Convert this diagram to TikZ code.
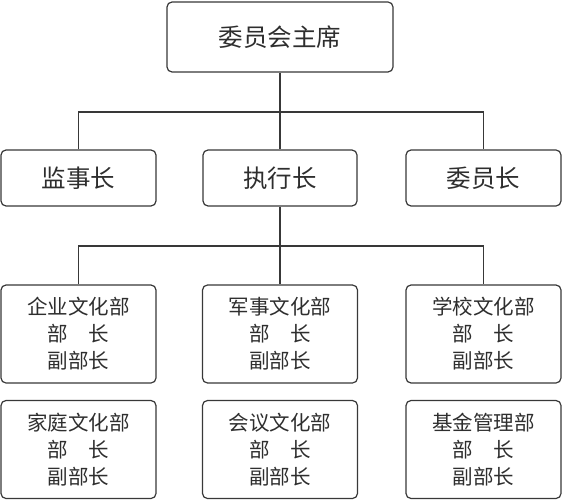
\documentclass[tikz,border=0pt]{standalone}
\usepackage{fontspec}
\newfontfamily\cjk{Noto Sans CJK SC}
\tikzset{
  box/.style={draw=black!78,line width=1.2pt,rounded corners=5pt,align=center,text=black!82,inner sep=0pt},
  big/.style={box,font=\cjk\fontsize{24.5}{30}\selectfont},
  dept/.style={box,minimum width=155pt,minimum height=98pt,font=\cjk\fontsize{20.5}{27}\selectfont},
  link/.style={draw=black!78,line width=1.1pt}
}
\begin{document}
\begin{tikzpicture}[x=1pt,y=-1pt]
	\useasboundingbox (0,0) rectangle (562,500);
	\def\xl{78.5};\def\xm{280};\def\xr{483.5};
	\node[big,minimum width=226pt,minimum height=70pt] (chair) at (\xm,37) {委员会主席};
	\node[big,minimum width=155pt,minimum height=56pt] (jian) at (\xl,178) {监事长};
	\node[big,minimum width=154pt,minimum height=56pt] (zhi) at (\xm,178) {执行长};
	\node[big,minimum width=155pt,minimum height=56pt] (wei) at (\xr,178) {委员长};
	\foreach \n/\x/\y/\t in {qiye/\xl/334/企业文化部, junshi/\xm/334/军事文化部, xuexiao/\xr/334/学校文化部,
	                        jiating/\xl/449.5/家庭文化部, huiyi/\xm/449.5/会议文化部, jijin/\xr/449.5/基金管理部}
		{\node[dept] (\n) at (\x,\y) {\t\\部　长\\副部长};}
	\coordinate (bus1) at (\xm,112);
	\coordinate (bus2) at (\xm,246);
	\draw[link] (chair.south)--(bus1) (bus1)--(zhi.north);
	\draw[link] (jian.north) |- (bus1) -| (wei.north);
	\draw[link] (zhi.south)--(bus2) (bus2)--(junshi.north);
	\draw[link] (qiye.north) |- (bus2) -| (xuexiao.north);
\end{tikzpicture}
\end{document}
